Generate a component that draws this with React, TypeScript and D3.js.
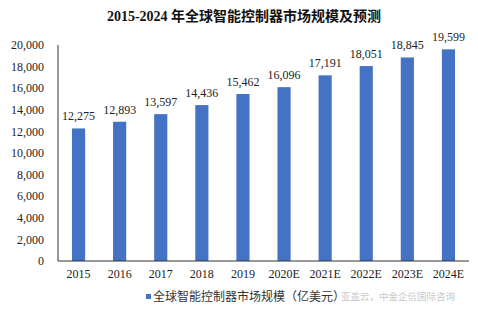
import React from 'react';
import * as d3 from 'd3';

const years = ['2015', '2016', '2017', '2018', '2019', '2020E', '2021E', '2022E', '2023E', '2024E'];
const marketSize = [12275, 12893, 13597, 14436, 15462, 16096, 17191, 18051, 18845, 19599];
const yTicks = [0, 2000, 4000, 6000, 8000, 10000, 12000, 14000, 16000, 18000, 20000];

const W = 478;
const H = 312;
const margin = { top: 45, right: 9, bottom: 51, left: 58 };
const serif = '"Liberation Serif", "Times New Roman", serif';
const cjk = '"Noto Sans CJK SC", "Noto Sans", sans-serif';

export default function App() {
  const x = d3.scaleBand()
    .domain(years)
    .range([margin.left, W - margin.right])
    .paddingInner(0.68)
    .paddingOuter(0.34);
  const y = d3.scaleLinear().domain([0, 20000]).range([H - margin.bottom, margin.top]);
  const fmt = d3.format(',');

  return (
    <svg width={W} height={H} style={{ position: 'absolute', left: 0, top: 0, background: '#fff' }}>
      <text x={W / 2 + 5} y={21} textAnchor="middle" fontFamily={serif} fontWeight="bold" fontSize={14} fill="#111">
        2015-2024 <tspan fontFamily={cjk}>年全球智能控制器市场规模及预测</tspan>
      </text>

      {yTicks.map(t => (
        <text key={t} x={44} y={y(t)} dy="0.35em" textAnchor="end" fontFamily={serif} fontSize={12} fill="#222">
          {fmt(t)}
        </text>
      ))}

      {years.map((yr, i) => (
        <g key={yr}>
          <rect x={x(yr)} y={y(marketSize[i])} width={x.bandwidth()} height={y(0) - y(marketSize[i])} fill="#4472C4" />
          <text x={(x(yr) as number) + x.bandwidth() / 2} y={y(marketSize[i]) - 8} textAnchor="middle" fontFamily={serif} fontSize={12} fill="#222">
            {fmt(marketSize[i])}
          </text>
          <text x={(x(yr) as number) + x.bandwidth() / 2} y={278} textAnchor="middle" fontFamily={serif} fontSize={12} fill="#222">
            {yr}
          </text>
        </g>
      ))}

      <line x1={margin.left} x2={margin.left} y1={margin.top} y2={y(0)} stroke="#333" strokeWidth={1} />
      <line x1={margin.left} x2={W - margin.right} y1={y(0)} y2={y(0)} stroke="#333" strokeWidth={1} />

      <rect x={146} y={294} width={5} height={5} fill="#4472C4" />
      <text x={153} y={301} fontFamily={cjk} fontSize={12} fill="#333">全球智能控制器市场规模（亿美元）</text>
      <text x={341} y={300} fontFamily={cjk} fontSize={9.5} fill="#c8c8c8">亚盖云，中金企信国际咨询</text>
    </svg>
  );
}
